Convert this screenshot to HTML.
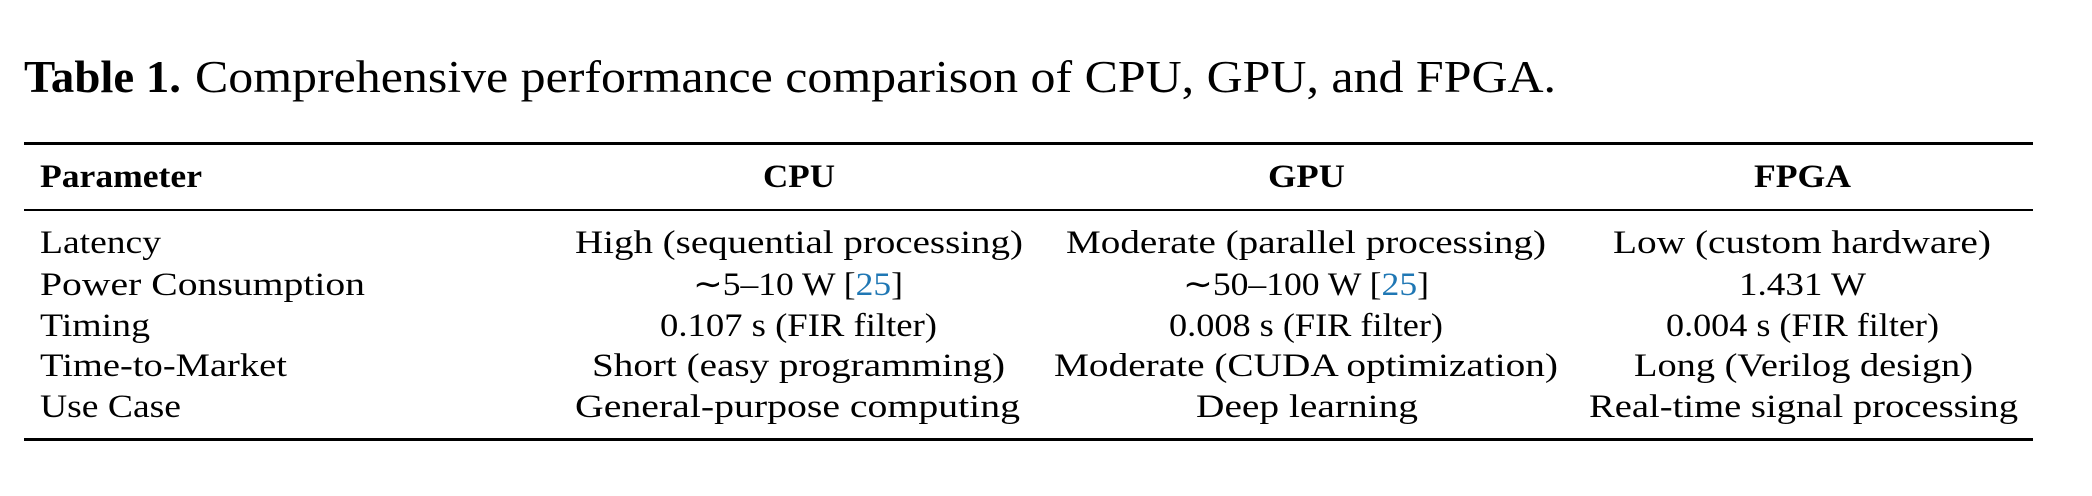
<!DOCTYPE html>
<html><head><meta charset="utf-8"><style>html,body{margin:0;padding:0;background:#fff;}svg{display:block}</style></head>
<body>
<svg width="2092" height="496" viewBox="0 0 2092 496" xmlns="http://www.w3.org/2000/svg" font-family="'Liberation Serif', serif" fill="#000">
<text x="24" y="92" font-size="45" font-weight="bold" textLength="157" lengthAdjust="spacingAndGlyphs">Table 1.</text>
<text x="195" y="92" font-size="45" textLength="1361" lengthAdjust="spacingAndGlyphs">Comprehensive performance comparison of CPU, GPU, and FPGA.</text>
<rect x="24" y="142" width="2009" height="3"/>
<rect x="24" y="209" width="2009" height="2"/>
<rect x="24" y="438" width="2009" height="3"/>
<g font-size="33" font-weight="bold">
<text x="40" y="187" textLength="162" lengthAdjust="spacingAndGlyphs">Parameter</text>
<text x="763" y="187" textLength="72" lengthAdjust="spacingAndGlyphs">CPU</text>
<text x="1268" y="187" textLength="77" lengthAdjust="spacingAndGlyphs">GPU</text>
<text x="1754" y="187" textLength="97" lengthAdjust="spacingAndGlyphs">FPGA</text>
</g>
<g font-size="33">
<text x="40" y="253" textLength="121" lengthAdjust="spacingAndGlyphs">Latency</text>
<text x="40" y="295" textLength="325" lengthAdjust="spacingAndGlyphs">Power Consumption</text>
<text x="40" y="336" textLength="110" lengthAdjust="spacingAndGlyphs">Timing</text>
<text x="40" y="376" textLength="247" lengthAdjust="spacingAndGlyphs">Time-to-Market</text>
<text x="40" y="417" textLength="141" lengthAdjust="spacingAndGlyphs">Use Case</text>

<text x="575" y="253" textLength="448" lengthAdjust="spacingAndGlyphs">High (sequential processing)</text>
<text x="693" y="295" textLength="210" lengthAdjust="spacingAndGlyphs">∼5–10 W [<tspan fill="#1f77b4">25</tspan>]</text>
<text x="660" y="336" textLength="277" lengthAdjust="spacingAndGlyphs">0.107 s (FIR filter)</text>
<text x="592" y="376" textLength="413" lengthAdjust="spacingAndGlyphs">Short (easy programming)</text>
<text x="575" y="417" textLength="445" lengthAdjust="spacingAndGlyphs">General-purpose computing</text>

<text x="1066" y="253" textLength="480" lengthAdjust="spacingAndGlyphs">Moderate (parallel processing)</text>
<text x="1183" y="295" textLength="246" lengthAdjust="spacingAndGlyphs">∼50–100 W [<tspan fill="#1f77b4">25</tspan>]</text>
<text x="1169" y="336" textLength="274" lengthAdjust="spacingAndGlyphs">0.008 s (FIR filter)</text>
<text x="1054" y="376" textLength="504" lengthAdjust="spacingAndGlyphs">Moderate (CUDA optimization)</text>
<text x="1196" y="417" textLength="222" lengthAdjust="spacingAndGlyphs">Deep learning</text>

<text x="1613" y="253" textLength="378" lengthAdjust="spacingAndGlyphs">Low (custom hardware)</text>
<text x="1739" y="295" textLength="127" lengthAdjust="spacingAndGlyphs">1.431 W</text>
<text x="1666" y="336" textLength="273" lengthAdjust="spacingAndGlyphs">0.004 s (FIR filter)</text>
<text x="1634" y="376" textLength="339" lengthAdjust="spacingAndGlyphs">Long (Verilog design)</text>
<text x="1589" y="417" textLength="429" lengthAdjust="spacingAndGlyphs">Real-time signal processing</text>
</g>
</svg>
</body></html>
